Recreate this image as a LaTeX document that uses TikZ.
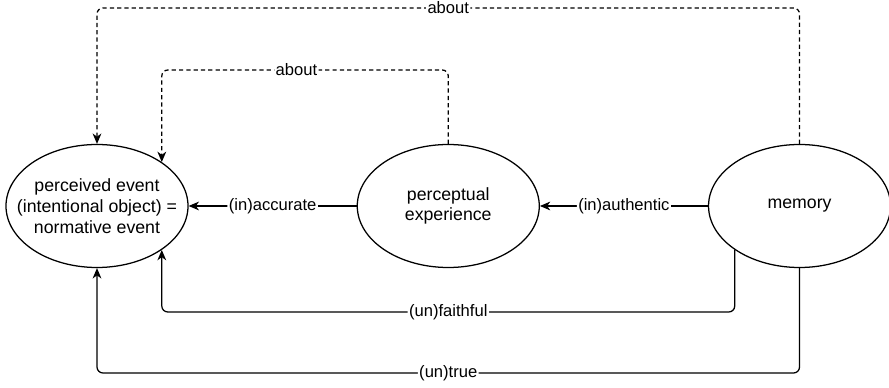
\documentclass[tikz,border=0pt]{standalone}
\usepackage{fontspec}
\setmainfont{Liberation Sans}
\usepackage{tikz}
\usetikzlibrary{arrows.meta, positioning, shapes.geometric}

\begin{document}
\begin{tikzpicture}[
  font=\fontsize{12.6}{14.8}\selectfont,
  node distance=4.2cm,
  evt/.style={draw, ellipse, line width=0.9pt, inner sep=0pt, minimum width=4.55cm, minimum height=3.075cm, align=center},
  lbl/.style={fill=white, inner sep=1pt, font=\fontsize{11.8}{13}\selectfont},
  arr/.style={-{Stealth[length=2.6mm, width=2.2mm, inset=0.8mm]}},
  rel/.style={arr, line width=0.9pt, rounded corners=0.15cm},
  about/.style={rel, dash pattern=on 3pt off 2.2pt}
]
  \useasboundingbox (0,0) rectangle (22.225,9.7);

  % Events
  \node[evt, inner xsep=-0.42cm] (pevent) at (2.425, 4.55) {perceived event\\(intentional object) =\\normative event};
  \node[evt, right=of pevent] (pexp) {perceptual\\experience};
  \node[evt, right=of pexp] (mem) {memory};

  % Levels of the routed lines
  \coordinate (outerY) at (0, 9.5);
  \coordinate (innerY) at (0, 7.95);
  \coordinate (faithY) at (0, 1.9);
  \coordinate (trueY) at (0, 0.375);

  % Straight relations
  \draw[rel] (pexp) -- node[lbl]{(in)accurate} (pevent);
  \draw[rel] (mem) -- node[lbl]{(in)authentic} (pexp);

  % About
  \draw[about] (mem.north) -- (mem.north |- outerY) -- node[lbl]{about} (pevent.north |- outerY) -- (pevent.north);
  \draw[about] (pexp.north) -- (pexp.north |- innerY) -- node[lbl, pos=0.53]{about} (pevent.north east |- innerY) -- (pevent.north east);

  % Below
  \draw[rel] (mem.south west) -- (mem.south west |- faithY) -- node[lbl]{(un)faithful} (pevent.south east |- faithY) -- (pevent.south east);
  \draw[rel] (mem.south) -- (mem.south |- trueY) -- node[lbl]{(un)true} (pevent.south |- trueY) -- (pevent.south);
\end{tikzpicture}
\end{document}
